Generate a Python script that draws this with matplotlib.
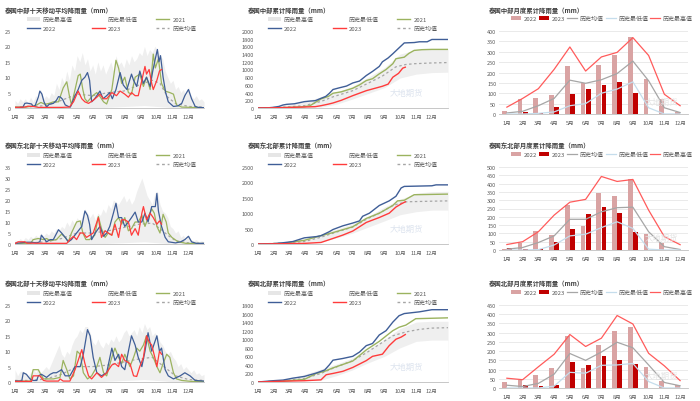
import numpy as np
import matplotlib.pyplot as plt
from matplotlib.patches import Patch
from matplotlib.lines import Line2D

plt.rcParams['font.family'] = ['Noto Sans CJK SC', 'DejaVu Sans']

W, H = 700, 402

month_days = [0, 31, 59, 90, 120, 151, 181, 212, 243, 273, 304, 334]
month_labels = ['1月', '2月', '3月', '4月', '5月', '6月', '7月', '8月', '9月', '10月', '11月', '12月']
regions = ['中部', '东北部', '北部']

# ---------------- 十天移动平均 (day, mm) ----------------
ma_2022 = {
    '中部': [(0, 0.1), (15, 0.2), (19, 1.5), (23, 1.6), (32, 1.3), (35, 0.5), (39, 0.8), (45, 3.5), (48, 5.5),
             (52, 4.5), (56, 2.0), (61, 0.3), (66, 1.2), (74, 1.5), (80, 2.5), (84, 3.7), (88, 3.5), (92, 2.8),
             (97, 1.0), (103, 0.5), (107, 0.3), (111, 2.0), (116, 4.0), (122, 6.0), (129, 9.0), (135, 10.0),
             (140, 11.5), (144, 9.0), (148, 2.0), (154, 3.0), (160, 4.5), (164, 5.5), (170, 3.0), (177, 4.0),
             (183, 5.0), (188, 3.0), (195, 6.0), (203, 11.5), (209, 7.5), (216, 6.0), (225, 11.0), (229, 9.0),
             (235, 7.0), (241, 12.0), (248, 8.0), (254, 10.0), (261, 7.0), (266, 12.0), (271, 16.0), (275, 19.0),
             (278, 15.0), (281, 17.0), (286, 10.0), (291, 5.0), (296, 2.0), (306, 0.5), (315, 0.7), (322, 1.5),
             (328, 4.0), (335, 6.0), (341, 3.0), (348, 0.5), (354, 0.2), (365, 0.1)],
    '东北部': [(0, 0.3), (23, 0.8), (32, 0.8), (42, 0.5), (48, 1.0), (51, 4.0), (56, 2.5), (61, 1.0), (68, 2.0),
              (74, 2.0), (84, 6.5), (90, 5.0), (97, 3.0), (103, 1.0), (109, 2.0), (119, 5.0), (129, 8.0),
              (135, 15.0), (140, 13.0), (144, 9.0), (148, 2.0), (155, 5.0), (164, 8.0), (171, 3.5), (177, 5.0),
              (183, 8.0), (190, 14.0), (195, 18.5), (200, 12.0), (206, 12.0), (212, 8.0), (219, 10.0),
              (225, 12.0), (232, 14.5), (238, 10.0), (245, 10.0), (251, 14.0), (257, 10.0), (264, 17.0),
              (271, 17.0), (274, 23.0), (277, 15.0), (283, 8.0), (290, 3.0), (296, 1.0), (310, 0.5), (320, 1.0),
              (328, 2.0), (335, 3.5), (341, 1.0), (350, 0.3), (365, 0.3)],
    '北部': [(0, 0.3), (13, 0.3), (16, 3.0), (22, 2.5), (29, 1.0), (35, 0.5), (42, 0.5), (45, 2.0), (51, 2.5),
             (61, 1.5), (68, 2.5), (74, 3.0), (80, 3.0), (90, 4.0), (97, 2.0), (106, 2.0), (116, 5.0), (126, 5.0),
             (132, 9.0), (140, 17.0), (145, 15.0), (151, 8.0), (158, 3.0), (167, 2.0), (177, 3.0), (187, 11.0),
             (193, 7.0), (200, 9.0), (206, 5.0), (212, 4.0), (219, 10.0), (225, 15.0), (232, 12.0), (238, 8.0),
             (245, 5.0), (251, 10.0), (257, 16.0), (264, 10.0), (270, 13.0), (274, 15.0), (279, 10.0),
             (283, 11.0), (290, 4.0), (296, 2.0), (306, 1.0), (319, 2.0), (328, 3.0), (338, 2.0), (348, 0.5),
             (365, 0.3)],
}
ma_2021 = {
    '中部': [(0, 0.3), (20, 0.3), (35, 0.6), (42, 1.0), (50, 1.8), (58, 1.2), (66, 1.5), (74, 2.0), (84, 2.0),
             (93, 6.5), (100, 8.5), (105, 4.0), (109, 1.0), (116, 6.0), (122, 10.5), (126, 11.0), (131, 6.0),
             (135, 3.0), (140, 2.0), (150, 4.0), (158, 5.0), (165, 3.5), (171, 2.0), (177, 1.3), (187, 6.0),
             (195, 15.5), (200, 13.0), (206, 8.0), (212, 10.0), (219, 5.0), (225, 4.5), (232, 10.0), (241, 11.0),
             (248, 7.0), (254, 10.0), (261, 6.0), (267, 17.5), (271, 13.0), (277, 16.0), (283, 8.0), (290, 5.5),
             (299, 5.0), (306, 4.5), (312, 1.0), (322, 0.3), (340, 0.2), (365, 0.1)],
    '东北部': [(0, 0.1), (30, 0.2), (35, 2.0), (45, 2.5), (55, 2.0), (61, 2.5), (68, 1.5), (80, 2.0), (90, 4.5),
              (97, 3.0), (103, 1.0), (109, 5.0), (119, 10.0), (126, 10.5), (131, 5.0), (137, 2.0), (144, 2.0),
              (154, 4.0), (161, 12.5), (167, 7.0), (174, 3.0), (180, 5.0), (187, 4.0), (193, 10.0), (200, 12.0),
              (206, 9.0), (212, 12.0), (219, 6.0), (225, 7.0), (232, 10.0), (238, 10.0), (245, 13.0), (251, 8.0),
              (257, 12.0), (264, 16.0), (269, 14.0), (274, 8.0), (280, 5.0), (286, 13.5), (292, 10.0), (296, 5.0),
              (303, 3.0), (309, 2.0), (315, 1.0), (330, 0.3), (365, 0.2)],
    '北部': [(0, 0.3), (30, 0.3), (35, 4.0), (45, 4.0), (48, 3.0), (55, 1.0), (61, 1.0), (74, 1.0), (87, 1.5),
             (93, 7.0), (100, 4.0), (106, 1.0), (113, 2.0), (120, 10.0), (126, 9.0), (132, 3.0), (140, 1.0),
             (148, 2.0), (158, 5.0), (164, 8.0), (171, 3.0), (177, 2.0), (187, 8.0), (193, 11.0), (200, 8.0),
             (206, 6.0), (212, 9.0), (222, 5.0), (229, 8.0), (235, 11.0), (241, 10.0), (248, 12.0), (254, 15.0),
             (261, 10.0), (267, 8.0), (274, 5.0), (280, 3.0), (286, 6.0), (293, 9.0), (299, 8.0), (306, 3.0),
             (312, 1.0), (322, 0.5), (340, 0.2), (365, 0.2)],
}
ma_2023 = {
    '中部': [(0, 0.2), (19, 0.3), (25, 0.6), (35, 0.5), (45, 0.2), (90, 0.2), (105, 0.3), (113, 2.0), (122, 5.5),
             (129, 3.0), (135, 2.0), (142, 1.5), (151, 2.5), (158, 3.5), (164, 4.5), (171, 3.0), (177, 3.0),
             (187, 5.0), (196, 4.0), (203, 5.5), (212, 4.5), (219, 3.5), (225, 5.0), (232, 4.0), (238, 4.0),
             (245, 9.0), (251, 13.5), (254, 11.0), (259, 12.5), (264, 8.0), (267, 6.0), (274, 9.0), (279, 12.0),
             (283, 12.5)],
    '东北部': [(0, 0.2), (6, 1.0), (19, 1.0), (23, 0.4), (60, 0.3), (100, 0.3), (106, 2.0), (113, 3.5), (119, 2.0),
              (126, 5.0), (132, 5.0), (138, 3.0), (151, 5.0), (161, 12.0), (167, 3.0), (174, 6.0), (180, 5.0),
              (187, 4.0), (193, 9.0), (200, 3.0), (206, 11.0), (212, 11.0), (219, 10.0), (225, 4.0), (232, 7.0),
              (238, 4.0), (245, 14.0), (248, 17.0), (254, 11.0), (261, 14.0), (267, 12.0), (274, 9.0),
              (279, 10.5), (283, 9.0)],
    '北部': [(0, 0.2), (32, 0.2), (35, 2.0), (48, 2.0), (55, 0.5), (61, 0.3), (84, 0.3), (87, 1.0), (93, 0.3),
             (106, 0.3), (116, 4.0), (129, 10.5), (135, 6.0), (142, 2.0), (148, 1.0), (158, 3.0), (167, 1.5),
             (177, 3.0), (187, 5.5), (193, 6.0), (200, 5.0), (206, 9.0), (212, 7.0), (222, 6.0), (229, 2.0),
             (235, 1.8), (241, 5.0), (248, 8.0), (254, 15.0), (259, 13.0), (264, 12.0), (270, 8.0), (274, 5.0),
             (279, 10.0), (283, 9.0)],
}
ma_max = {
    '中部': [(0, 2.5), (5, 1.5), (10, 3), (15, 2), (20, 3), (25, 1.5), (30, 3.5), (35, 2), (40, 4), (45, 3), (50, 6),
             (55, 3), (60, 4), (65, 3), (70, 5), (75, 4), (80, 8), (85, 6), (90, 10), (95, 8), (100, 12), (105, 9),
             (110, 14), (115, 12), (120, 17), (125, 15), (130, 18), (135, 14), (140, 16), (145, 12), (150, 14),
             (155, 11), (160, 15), (165, 12), (170, 14), (175, 11), (180, 13), (185, 15), (190, 12), (195, 17),
             (200, 14), (205, 15), (210, 13), (215, 16), (220, 14), (225, 17), (230, 15), (235, 16), (240, 18),
             (245, 17), (250, 20), (255, 17), (260, 19), (265, 18), (270, 20), (275, 19), (280, 17), (285, 16),
             (290, 12), (295, 10), (300, 8), (305, 9), (310, 6), (315, 7), (320, 5), (325, 6), (330, 4), (335, 7),
             (340, 4), (345, 3), (350, 4), (355, 2.5), (360, 3), (365, 2)],
    '东北部': [(0, 2), (5, 1), (10, 2.5), (15, 1.5), (20, 3), (25, 2), (30, 3.5), (35, 2.5), (40, 4), (45, 3),
              (50, 5), (55, 3.5), (60, 5), (65, 4), (70, 6), (75, 5), (80, 7), (85, 6), (90, 8), (95, 7), (100, 10),
              (105, 8), (110, 11), (115, 9), (120, 12), (125, 10), (130, 13), (135, 16), (140, 14), (145, 12),
              (150, 14), (155, 11), (160, 14), (165, 13), (170, 16), (175, 14), (180, 18), (185, 16), (190, 20),
              (195, 19), (200, 18), (205, 20), (210, 22), (215, 19), (220, 21), (225, 18), (230, 20), (235, 24),
              (240, 27), (245, 30), (250, 26), (255, 22), (260, 20), (265, 18), (270, 23), (275, 24), (280, 18),
              (285, 15), (290, 14), (295, 12), (300, 8), (305, 7), (310, 5), (315, 6), (320, 3), (325, 4),
              (330, 2), (335, 4), (340, 2), (345, 1.5), (350, 2), (355, 1), (360, 1.5), (365, 1)],
    '北部': [(0, 4), (5, 2), (10, 3.5), (15, 3.5), (20, 3), (25, 2), (30, 3), (35, 4.5), (40, 3), (45, 4.5),
             (50, 3), (55, 4), (60, 5), (65, 4), (70, 6), (75, 8), (80, 10), (85, 12), (90, 9), (95, 8), (100, 10),
             (105, 9), (110, 12), (115, 14), (120, 15), (125, 17), (130, 16), (135, 18), (140, 18), (145, 16),
             (150, 13), (155, 12), (160, 14), (165, 12), (170, 11), (175, 13), (180, 12), (185, 14), (190, 13),
             (195, 15), (200, 13), (205, 14), (210, 16), (215, 17), (220, 15), (225, 16), (230, 17), (235, 15),
             (240, 18), (245, 16), (250, 19), (255, 17), (260, 18), (265, 15), (270, 16), (275, 15), (280, 13),
             (285, 12), (290, 10), (295, 9), (300, 10), (305, 8), (310, 7), (315, 5), (320, 6), (325, 4), (330, 5),
             (335, 4), (340, 3), (345, 4), (350, 2.5), (355, 3), (360, 2), (365, 2.5)],
}
ma_min = {
    '中部': [(0, 0), (150, 0), (200, 0.4), (250, 0.8), (290, 0.3), (310, 0), (365, 0)],
    '东北部': [(0, 0), (150, 0), (200, 0.5), (250, 1.0), (290, 0.3), (310, 0), (365, 0)],
    '北部': [(0, 0), (150, 0), (200, 0.4), (250, 0.8), (290, 0.3), (310, 0), (365, 0)],
}
ma_avg = {
    '中部': [(0, 0.3), (30, 0.4), (60, 0.8), (90, 2.5), (120, 4.5), (150, 4.0), (180, 5.0), (210, 5.5), (240, 7.5),
             (265, 9.0), (280, 8.0), (295, 3.5), (310, 1.5), (335, 0.5), (365, 0.3)],
    '东北部': [(0, 0.3), (30, 0.5), (60, 1.0), (90, 2.5), (120, 5.0), (150, 5.0), (180, 6.0), (210, 7.5),
              (240, 9.0), (265, 9.5), (280, 7.0), (295, 4.0), (310, 1.5), (335, 0.5), (365, 0.3)],
    '北部': [(0, 0.5), (30, 0.5), (60, 1.0), (90, 2.5), (120, 5.0), (150, 5.0), (180, 5.5), (210, 6.5), (240, 7.5),
             (265, 8.0), (280, 6.0), (295, 4.0), (310, 2.0), (335, 0.8), (365, 0.5)],
}

# ---------------- 累计降雨量 (day, mm) ----------------
cum_2022 = {
    '中部': [(0, 0), (20, 5), (29, 17), (40, 40), (48, 78), (55, 95), (70, 110), (89, 165), (100, 180), (110, 190),
             (121, 252), (130, 300), (137, 380), (144, 480), (155, 520), (170, 570), (182, 650), (195, 700),
             (208, 843), (220, 950), (233, 1080), (239, 1200), (250, 1300), (259, 1409), (270, 1550), (281, 1690),
             (300, 1700), (310, 1720), (325, 1720), (334, 1780), (365, 1780)],
    '东北部': [(0, 0), (29, 10), (48, 40), (67, 80), (89, 200), (112, 240), (121, 270), (137, 400), (144, 470),
              (163, 590), (182, 680), (195, 750), (201, 900), (214, 1000), (233, 1250), (252, 1400), (265, 1550),
              (275, 1820), (281, 1870), (334, 1890), (342, 1920), (365, 1920)],
    '北部': [(0, 0), (29, 30), (48, 45), (67, 90), (89, 130), (112, 210), (128, 280), (137, 400), (144, 510),
             (163, 550), (182, 600), (195, 700), (208, 850), (220, 900), (233, 1100), (246, 1200), (259, 1400),
             (271, 1550), (281, 1600), (310, 1640), (334, 1690), (365, 1690)],
}
cum_2021 = {
    '中部': [(0, 0), (30, 5), (60, 15), (89, 35), (100, 60), (121, 235), (135, 300), (144, 383), (160, 420),
             (182, 513), (195, 600), (208, 713), (220, 760), (233, 887), (246, 1000), (259, 1150), (265, 1280),
             (281, 1320), (290, 1420), (300, 1496), (315, 1515), (334, 1522), (365, 1522)],
    '东北部': [(0, 0), (48, 20), (89, 120), (121, 270), (144, 370), (182, 560), (208, 830), (233, 1000),
              (259, 1250), (268, 1400), (281, 1420), (300, 1600), (365, 1620)],
    '北部': [(0, 0), (48, 20), (89, 60), (112, 200), (128, 250), (144, 330), (182, 490), (208, 750), (233, 950),
             (259, 1200), (271, 1280), (284, 1330), (303, 1480), (365, 1500)],
}
cum_2023 = {
    '中部': [(0, 0), (48, 10), (89, 26), (110, 35), (121, 60), (135, 100), (144, 130), (160, 200), (182, 320),
             (208, 450), (239, 565), (250, 620), (259, 800), (270, 900), (278, 1035), (283, 1060)],
    '东北部': [(0, 0), (48, 10), (89, 20), (121, 50), (144, 180), (163, 290), (182, 420), (208, 700), (233, 860),
              (252, 1000), (265, 1200), (275, 1300), (283, 1370)],
    '北部': [(0, 0), (48, 20), (89, 30), (121, 50), (131, 170), (144, 200), (163, 250), (182, 340), (208, 500),
             (220, 600), (239, 650), (252, 850), (265, 1000), (275, 1050), (283, 1110)],
}
cum_avg = {
    '中部': [(0, 0), (48, 20), (89, 60), (121, 170), (144, 290), (182, 450), (208, 620), (239, 830), (265, 1070),
             (284, 1130), (300, 1150), (334, 1170), (365, 1180)],
    '东北部': [(0, 0), (48, 30), (89, 80), (121, 220), (144, 350), (182, 550), (208, 800), (233, 1000),
              (259, 1250), (284, 1370), (334, 1390), (365, 1400)],
    '北部': [(0, 0), (48, 30), (89, 80), (121, 200), (144, 320), (182, 500), (208, 680), (233, 880), (259, 1080),
             (284, 1170), (310, 1230), (334, 1260), (365, 1270)],
}
cum_max = {
    '中部': [(0, 0), (59, 80), (120, 280), (151, 420), (181, 560), (212, 800), (243, 1050), (273, 1400),
             (304, 1510), (334, 1540), (365, 1540)],
    '东北部': [(0, 0), (59, 80), (90, 160), (120, 320), (151, 480), (181, 650), (212, 900), (243, 1200),
              (273, 1450), (304, 1650), (334, 1700), (365, 1710)],
    '北部': [(0, 0), (59, 60), (120, 300), (151, 420), (181, 560), (212, 760), (243, 1000), (273, 1250),
             (304, 1400), (334, 1420), (365, 1420)],
}
cum_min = {
    '中部': [(0, 0), (120, 20), (151, 100), (181, 230), (212, 380), (243, 530), (273, 780), (304, 880), (334, 920),
             (365, 930)],
    '东北部': [(0, 0), (90, 20), (120, 60), (151, 200), (181, 350), (212, 550), (243, 750), (273, 950),
              (304, 1050), (334, 1100), (365, 1100)],
    '北部': [(0, 0), (120, 40), (151, 150), (181, 280), (212, 450), (243, 600), (273, 800), (304, 950), (334, 980),
             (365, 980)],
}

# ---------------- 月度累计降雨量 (mm) ----------------
mon_2022 = {
    '中部': [15, 72, 77, 92, 230, 148, 237, 284, 370, 167, 73, 8],
    '东北部': [8, 45, 113, 88, 270, 145, 345, 327, 425, 98, 42, 0],
    '北部': [30, 45, 70, 108, 283, 110, 232, 308, 330, 112, 40, 17],
}
mon_2023 = {
    '中部': [0, 8, 5, 33, 97, 119, 141, 152, 103],
    '东北部': [12, 5, 7, 48, 125, 215, 258, 222, 107],
    '北部': [0, 15, 12, 17, 143, 125, 175, 152, 130],
}
mon_avg = {
    '中部': [5, 13, 40, 75, 163, 148, 165, 195, 255, 160, 30, 7],
    '东北部': [5, 15, 45, 85, 185, 185, 230, 255, 258, 110, 20, 3],
    '北部': [15, 8, 25, 75, 187, 150, 195, 248, 218, 125, 30, 12],
}
mon_min = {
    '中部': [0, 0, 3, 10, 40, 50, 100, 120, 155, 30, 0, 0],
    '东北部': [0, 0, 2, 30, 85, 95, 135, 170, 130, 5, 0, 0],
    '北部': [0, 0, 0, 10, 85, 80, 123, 125, 133, 35, 0, 0],
}
mon_max = {
    '中部': [33, 75, 122, 215, 323, 207, 275, 297, 368, 282, 95, 40],
    '东北部': [33, 50, 110, 210, 288, 305, 443, 413, 425, 240, 80, 32],
    '北部': [53, 45, 115, 183, 290, 225, 270, 393, 347, 188, 120, 40],
}

ma_ylim = {'中部': 25, '东北部': 35, '北部': 25}
cum_ylim = {'中部': (2000, 200), '东北部': (2500, 500), '北部': (1800, 200)}
mon_ylim = {'中部': 400, '东北部': 500, '北部': 450}

C21 = '#9BB35F'
C22 = '#3F5E97'
C23 = '#FF3B3B'
CAVG = '#A6A6A6'
CBAND = '#EFEFEF'
TXT = '#595959'
FS = 4.3


def unzip(pairs):
    d, v = zip(*pairs)
    return np.array(d), np.array(v)


def px_axes(fig, x0, y0, x1, y1):
    return fig.add_axes([x0 / W, 1 - y1 / H, (x1 - x0) / W, (y1 - y0) / H])


def style(ax, pad_y=3):
    for s in ['top', 'right', 'left']:
        ax.spines[s].set_visible(False)
    ax.spines['bottom'].set_color('#BFBFBF')
    ax.spines['bottom'].set_linewidth(0.6)
    ax.tick_params(axis='both', length=0, labelsize=4, colors=TXT)
    ax.tick_params(axis='y', pad=pad_y)
    ax.tick_params(axis='x', pad=4)


def grey_texts(leg):
    for t in leg.get_texts():
        t.set_color(TXT)


def line_legend(ax, x_px, y_px):
    h = [Patch(facecolor='#E6E6E6', edgecolor='none', label='历史最高值'),
         Line2D([], [], color=C22, lw=1, label='2022'),
         Patch(facecolor='white', edgecolor='none', label='历史最低值'),
         Line2D([], [], color=C23, lw=1, label='2023'),
         Line2D([], [], color=C21, lw=1, label='2021'),
         Line2D([], [], color=CAVG, lw=1, ls=(0, (2, 2)), label='历史均值')]
    leg = ax.legend(handles=h, ncol=3, loc='upper left', bbox_to_anchor=(x_px / W, 1 - y_px / H),
                    bbox_transform=ax.figure.transFigure, frameon=False, fontsize=FS, borderpad=0,
                    borderaxespad=0, handlelength=2.2, handletextpad=0.5, columnspacing=3.1,
                    labelspacing=0.55)
    grey_texts(leg)


fig = plt.figure(figsize=(7, 4.02), dpi=100)

row_off = [0, 136, 274]
for i, reg in enumerate(regions):
    o = row_off[i]

    # ---- 十天移动平均 ----
    ax = px_axes(fig, 15, 32 + o, 204, 109 + o)
    d, v = unzip(ma_max[reg])
    ax.fill_between(d, 0, v, color=CBAND, lw=0)
    d, v = unzip(ma_min[reg])
    ax.fill_between(d, 0, v, color='white', lw=0)
    d, v = unzip(ma_avg[reg])
    ax.plot(d, v, color=CAVG, lw=0.9, ls=(0, (2, 2)))
    d, v = unzip(ma_2021[reg])
    ax.plot(d, v, color=C21, lw=0.9)
    d, v = unzip(ma_2022[reg])
    ax.plot(d, v, color=C22, lw=0.9)
    d, v = unzip(ma_2023[reg])
    ax.plot(d, v, color=C23, lw=0.9)
    ax.set_xlim(0, 365)
    ax.set_ylim(0, ma_ylim[reg])
    ax.set_yticks(np.arange(0, ma_ylim[reg] + 1, 5))
    ax.set_xticks(month_days, month_labels)
    style(ax)
    line_legend(ax, 27, 18 + o)
    fig.text(5 / W, 1 - (10 + o) / H, '泰国' + reg + '十天移动平均降雨量（mm）', fontsize=4.6,
             fontweight='bold', color='#404040', va='center')

    # ---- 累计降雨量 ----
    ax = px_axes(fig, 258, 32 + o, 448, 109 + o)
    d, v = unzip(cum_max[reg])
    ax.fill_between(d, 0, v, color=CBAND, lw=0)
    d, v = unzip(cum_min[reg])
    ax.fill_between(d, 0, v, color='white', lw=0)
    d, v = unzip(cum_avg[reg])
    ax.plot(d, v, color=CAVG, lw=0.9, ls=(0, (2, 2)))
    d, v = unzip(cum_2021[reg])
    ax.plot(d, v, color=C21, lw=1.0)
    d, v = unzip(cum_2022[reg])
    ax.plot(d, v, color=C22, lw=1.0)
    d, v = unzip(cum_2023[reg])
    ax.plot(d, v, color=C23, lw=1.0)
    top, step = cum_ylim[reg]
    ax.set_xlim(0, 365)
    ax.set_ylim(0, top)
    ax.set_yticks(np.arange(0, top + 1, step))
    ax.set_xticks(month_days, month_labels)
    style(ax)
    line_legend(ax, 268, 18 + o)
    ax.text(0.78, 0.2, '大地期货', transform=ax.transAxes, fontsize=6, color='#DCE3EE',
            ha='center', va='center')
    fig.text(248 / W, 1 - (10 + o) / H, '泰国' + reg + '累计降雨量（mm）', fontsize=4.6,
             fontweight='bold', color='#404040', va='center')

    # ---- 月度累计降雨量 ----
    ax = px_axes(fig, 499, 32 + o, 688, 115 + o)
    x = np.arange(12)
    ax.yaxis.grid(True, color='#E6E6E6', lw=0.6)
    ax.set_axisbelow(True)
    b22 = ax.bar(x - 0.17, mon_2022[reg], width=0.3, color='#D9A3A3', label='2022')
    n23 = len(mon_2023[reg])
    b23 = ax.bar(x[:n23] + 0.17, mon_2023[reg], width=0.3, color='#C00000', label='2023')
    l_avg, = ax.plot(x, mon_avg[reg], color='#A6A6A6', lw=0.9, label='历史均值')
    l_min, = ax.plot(x, mon_min[reg], color='#C5DDEC', lw=0.9, label='历史最低值')
    l_max, = ax.plot(x, mon_max[reg], color='#FF5B5B', lw=0.9, label='历史最高值')
    ax.set_xlim(-0.5, 11.5)
    ax.set_ylim(0, mon_ylim[reg])
    ax.set_yticks(np.arange(0, mon_ylim[reg] + 1, 50))
    ax.set_xticks(x, month_labels)
    style(ax, pad_y=2)
    leg = ax.legend(handles=[b22, b23, l_avg, l_min, l_max], ncol=5, loc='upper left',
                    bbox_to_anchor=(511 / W, 1 - (17 + o) / H), bbox_transform=fig.transFigure,
                    frameon=False, fontsize=FS, borderpad=0, borderaxespad=0, handlelength=1.7,
                    handletextpad=0.45, columnspacing=0.3)
    grey_texts(leg)
    ax.text(0.86, 0.15, '大地期货', transform=ax.transAxes, fontsize=6, color='#E3E3E3',
            ha='center', va='center')
    fig.text(489 / W, 1 - (10 + o) / H, '泰国' + reg + '月度累计降雨量（mm）', fontsize=4.6,
             fontweight='bold', color='#404040', va='center')

fig.savefig('out.png', dpi=100)
